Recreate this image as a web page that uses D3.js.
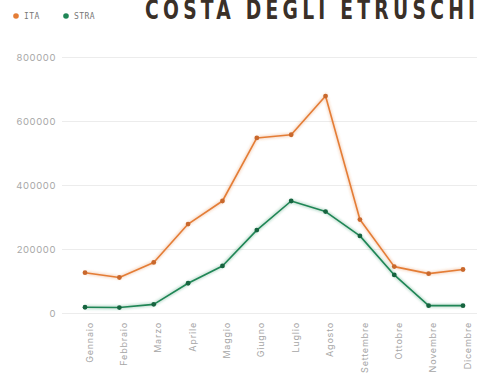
<!DOCTYPE html>
<html>
<head>
<meta charset="utf-8">
<script src="https://cdn.jsdelivr.net/npm/d3@7"></script>
<style>
  html, body { margin: 0; padding: 0; background: #fff; overflow: hidden; }
  svg { display: block; }
</style>
</head>
<body>
<svg id="chart" width="477" height="375"></svg>
<script>
// Monthly arrivals, Costa degli Etruschi
const months = ["Gennaio", "Febbraio", "Marzo", "Aprile", "Maggio", "Giugno",
                "Luglio", "Agosto", "Settembre", "Ottobre", "Novembre", "Dicembre"];
const ita  = [126000, 111000, 158000, 278000, 350000, 547000,
              557000, 678000, 292000, 145000, 123000, 136000];
const stra = [18000, 17000, 27000, 93000, 147000, 259000,
              350000, 317000, 241000, 119000, 23000, 23000];
const yTicks = [0, 200000, 400000, 600000, 800000];
const seriesNames = ["ITA", "STRA"];
const title = "COSTA DEGLI ETRUSCHI";

const colors = { ITA: "#e47d36", STRA: "#1f8656" };
const dotColors = { ITA: "#c9682c", STRA: "#16643f" };

const svg = d3.select("#chart");

const x = d3.scalePoint().domain(months).range([85, 463]);
const y = d3.scaleLinear().domain([0, 800000]).range([313, 57]);

// gridlines + y labels
const yAxis = d3.axisLeft(y).tickValues(yTicks).tickSize(-415).tickPadding(6)
  .tickFormat(d3.format("d"));
const gy = svg.append("g").attr("transform", "translate(62,0)").call(yAxis);
gy.select(".domain").remove();
gy.selectAll(".tick line").attr("stroke", "#ececec").attr("stroke-width", 1);
gy.selectAll(".tick text")
  .attr("fill", "#a8a8a8")
  .attr("font-family", "Inter, 'Noto Sans', sans-serif")
  .attr("font-size", 9.5)
  .attr("letter-spacing", 0.6);

// x labels, rotated
const xAxis = d3.axisBottom(x).tickSize(0).tickPadding(0);
const gx = svg.append("g").attr("transform", "translate(0,322)").call(xAxis);
gx.select(".domain").remove();
gx.selectAll(".tick text")
  .attr("fill", "#a6a6a6")
  .attr("font-family", "Inter, 'Noto Sans', sans-serif")
  .attr("font-size", 9)
  .attr("letter-spacing", 0.8)
  .attr("text-anchor", "end")
  .attr("transform", "translate(4,0) rotate(-90)")
  .attr("x", 0).attr("y", 0).attr("dy", "0.35em");

// series lines and points
const series = [
  { name: "ITA", values: ita },
  { name: "STRA", values: stra }
];
const line = d3.line().x((d, i) => x(months[i])).y(d => y(d));

const glow = svg.append("defs").append("filter").attr("id", "soft")
  .attr("x", "-5%").attr("y", "-5%").attr("width", "110%").attr("height", "110%");
glow.append("feGaussianBlur").attr("stdDeviation", 1.2);

series.forEach(s => {
  const g = svg.append("g");
  g.append("path")
    .datum(s.values)
    .attr("d", line)
    .attr("fill", "none")
    .attr("stroke", colors[s.name])
    .attr("stroke-opacity", 0.25)
    .attr("stroke-width", 4)
    .attr("filter", "url(#soft)");
  g.append("path")
    .datum(s.values)
    .attr("d", line)
    .attr("fill", "none")
    .attr("stroke", colors[s.name])
    .attr("stroke-width", 1.6)
    .attr("stroke-linejoin", "round");
  g.selectAll("circle")
    .data(s.values)
    .join("circle")
    .attr("cx", (d, i) => x(months[i]))
    .attr("cy", d => y(d))
    .attr("r", 2.4)
    .attr("fill", dotColors[s.name]);
});

// legend
const legend = svg.append("g").attr("transform", "translate(16,16)");
const legendX = d3.scaleOrdinal().domain(seriesNames).range([0, 50]);
seriesNames.forEach(n => {
  const lg = legend.append("g").attr("transform", `translate(${legendX(n)},0)`);
  lg.append("circle").attr("r", 2.8).attr("fill", colors[n]);
  lg.append("text")
    .attr("x", 8).attr("dy", "0.35em")
    .attr("fill", "#777")
    .attr("font-family", "'DejaVu Sans Mono', monospace")
    .attr("font-size", 8)
    .attr("letter-spacing", 0.4)
    .text(n);
});

// title: condensed, widely tracked caps
const sx = 0.8;
svg.append("g")
  .attr("transform", `translate(145,19) scale(${sx},1)`)
  .append("text")
  .attr("x", 0).attr("y", 0)
  .attr("fill", "#3a3028")
  .attr("font-family", "'DejaVu Sans Condensed', 'Liberation Sans Narrow', sans-serif")
  .attr("font-weight", "bold")
  .attr("font-size", 26)
  .attr("textLength", 330 / sx)
  .attr("lengthAdjust", "spacing")
  .text(title);
</script>
</body>
</html>
